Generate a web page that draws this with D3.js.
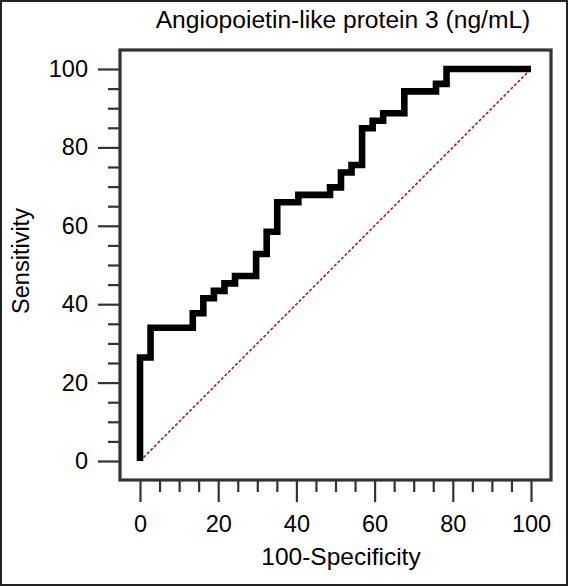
<!DOCTYPE html>
<html>
<head>
<meta charset="utf-8">
<script src="https://cdn.jsdelivr.net/npm/d3@7/dist/d3.min.js"></script>
<style>
html,body{margin:0;padding:0;background:#fff;}
svg{display:block;font-family:"Liberation Sans",Arial,sans-serif;}
</style>
</head>
<body>
<svg id="chart" width="568" height="586"></svg>
<script>
// Data
const fpr = [0, 0, 2.7, 13.5, 16.2, 18.9, 21.6, 24.3, 29.7, 32.4, 35.1, 40.5, 48.6, 51.4, 54.1, 56.8, 59.5, 62.2, 67.6, 75.7, 78.4, 100];
const tpr = [0, 26.4, 34.0, 37.7, 41.5, 43.4, 45.3, 47.2, 52.8, 58.5, 66.0, 67.9, 69.8, 73.6, 75.5, 84.9, 86.8, 88.7, 94.3, 96.2, 100, 100];
const majorTicks = [0, 20, 40, 60, 80, 100];
const minorTicks = [5, 10, 15, 25, 30, 35, 45, 50, 55, 65, 70, 75, 85, 90, 95];
const title = "Angiopoietin-like protein 3 (ng/mL)";
const xTitle = "100-Specificity";
const yTitle = "Sensitivity";

const svg = d3.select("#chart");
const W = 568, H = 586;
const frame = {left: 120, right: 551, top: 50, bottom: 480};
const x = d3.scaleLinear().domain([0, 100]).range([140, 531]);
const y = d3.scaleLinear().domain([0, 100]).range([461, 69]);
const axisColor = "#333";

// outer border
svg.append("rect").attr("x", 1).attr("y", 1).attr("width", W - 2).attr("height", H - 2)
  .attr("fill", "#fff").attr("stroke", "#222").attr("stroke-width", 2);

// axes
const yMinor = svg.append("g").attr("transform", `translate(${frame.left},0)`)
  .call(d3.axisLeft(y).tickValues(minorTicks).tickSize(12).tickFormat(""));
const yMajor = svg.append("g").attr("transform", `translate(${frame.left},0)`)
  .call(d3.axisLeft(y).tickValues(majorTicks).tickSize(22).tickPadding(10).tickFormat(d3.format("d")));
const xMinor = svg.append("g").attr("transform", `translate(0,${frame.bottom})`)
  .call(d3.axisBottom(x).tickValues(minorTicks).tickSize(12).tickFormat(""));
const xMajor = svg.append("g").attr("transform", `translate(0,${frame.bottom})`)
  .call(d3.axisBottom(x).tickValues(majorTicks).tickSize(22).tickPadding(13).tickFormat(d3.format("d")));

[yMinor, yMajor, xMinor, xMajor].forEach(g => {
  g.select(".domain").remove();
  g.selectAll(".tick line").attr("stroke", axisColor).attr("stroke-width", 2.2);
  g.selectAll(".tick text").attr("fill", "#000").style("font-size", "23.5px")
    .style("font-family", '"Liberation Sans",Arial,sans-serif');
});

// frame
svg.append("rect")
  .attr("x", frame.left).attr("y", frame.top)
  .attr("width", frame.right - frame.left).attr("height", frame.bottom - frame.top)
  .attr("fill", "none").attr("stroke", axisColor).attr("stroke-width", 3.2);

// diagonal reference
svg.append("line")
  .attr("x1", x(0)).attr("y1", y(0)).attr("x2", x(100)).attr("y2", y(100))
  .attr("stroke", "#a0201c").attr("stroke-width", 1.6).attr("stroke-dasharray", "3,2");

// ROC curve
const pts = fpr.map((v, i) => [v, tpr[i]]);
const line = d3.line().x(d => x(d[0])).y(d => y(d[1])).curve(d3.curveStepAfter);
svg.append("path").attr("d", line(pts))
  .attr("fill", "none").attr("stroke", "#000").attr("stroke-width", 6.6)
  .attr("stroke-linejoin", "miter").attr("stroke-linecap", "butt");

// titles
svg.append("text").attr("x", 343).attr("y", 28).attr("text-anchor", "middle")
  .style("font-size", "24.6px").attr("fill", "#000").text(title);
svg.append("text").attr("x", 341).attr("y", 565).attr("text-anchor", "middle")
  .style("font-size", "24.5px").attr("fill", "#000").text(xTitle);
svg.append("text").attr("transform", "translate(29,261) rotate(-90)").attr("text-anchor", "middle")
  .style("font-size", "23.5px").attr("fill", "#000").text(yTitle);
</script>
</body>
</html>
